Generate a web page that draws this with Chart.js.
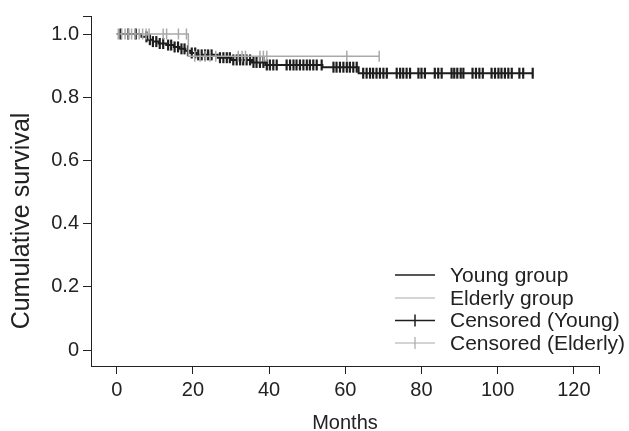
<!DOCTYPE html>
<html>
<head>
<meta charset="utf-8">
<script src="https://cdn.jsdelivr.net/npm/chart.js@4"></script>
<style>
  html, body { margin: 0; padding: 0; background: #fff; }
</style>
</head>
<body>
<canvas id="kmChart" width="629" height="431"></canvas>
<script>
// Kaplan-Meier curves, young vs elderly group

// young group: step times (months) and survival after each step
const youngStepTimes = [6.5, 8, 9.5, 11, 13, 15, 16.5, 18, 19.3, 21, 26.5, 30, 35.5, 39, 54, 63.5];
const youngStepSurv = [0.991, 0.982, 0.976, 0.970, 0.965, 0.959, 0.953, 0.947, 0.940, 0.934, 0.925, 0.918, 0.910, 0.902, 0.895, 0.876];
const youngLastTime = 109.2;
const youngCensorTimes = [1, 3, 5, 7.8, 8.7, 9.5, 10.4, 11.3, 12.2, 13.5, 14.3, 15.2, 16.1, 17.0, 17.8, 18.7,
  19.7, 20.6, 21.4, 22.3, 23.2, 24.0, 24.9, 27.1, 28.0, 28.9, 29.7, 30.6, 31.5, 32.4, 33.2, 34.1, 35.0,
  35.9, 36.7, 37.6, 38.5, 39.4, 40.2, 41.1, 42.0, 44.6, 45.5, 46.4, 47.2, 48.1, 49.0, 49.9, 50.7, 51.6,
  52.5, 53.8, 56.9, 57.7, 58.6, 59.5, 60.4, 61.2, 62.1, 63.0, 64.7, 65.6, 66.5, 67.3, 68.2, 69.1, 70.0,
  70.9, 73.5, 74.4, 75.2, 76.1, 77.0, 79.2, 80.0, 80.9, 83.5, 84.4, 85.3, 87.9, 88.6, 89.4, 90.3, 91.0,
  93.4, 94.3, 95.2, 96.1, 98.4, 99.3, 100.2, 101.0, 101.9, 102.8, 103.7, 105.7, 106.7, 109.2];

// elderly group
const elderlyStepTimes = [18.8];
const elderlyStepSurv = [0.930];
const elderlyLastTime = 68.9;
const elderlyCensorTimes = [0.4, 1.3, 2.2, 3.0, 3.9, 4.8, 5.9, 6.8, 7.7, 8.5, 12.2, 13.1, 16.2, 18.3,
  20.5, 21.9, 23.2, 24.5, 26.0, 31.9, 32.9, 33.8, 37.6, 38.5, 39.4, 60.4, 68.9];

const xTickValues = [0, 20, 40, 60, 80, 100, 120];
const yTickValues = [0, 0.2, 0.4, 0.6, 0.8, 1.0];
const legendLabels = ['Young group', 'Elderly group', 'Censored (Young)', 'Censored (Elderly)'];

const YOUNG = '#1e1e1e';
const ELDERLY = '#a9a9a9';
const TEXT = '#222';
const FONT = '"Liberation Sans", Arial, sans-serif';

function curvePoints(times, surv, lastTime) {
  const pts = [{x: 0, y: 1}];
  times.forEach((t, i) => pts.push({x: t, y: surv[i]}));
  pts.push({x: lastTime, y: surv[surv.length - 1]});
  return pts;
}

function survAt(times, surv, t) {
  let s = 1;
  times.forEach((ti, i) => { if (ti <= t) s = surv[i]; });
  return s;
}

function censorPoints(censor, times, surv) {
  return censor.map(t => ({x: t, y: survAt(times, surv, t)}));
}

// axis titles and legend drawn by hand to sit where the original has them
const extras = {
  id: 'extras',
  afterDraw(chart) {
    const ctx = chart.ctx;
    ctx.save();
    ctx.fillStyle = TEXT;
    ctx.font = '20px ' + FONT;
    ctx.textAlign = 'center';
    ctx.textBaseline = 'middle';
    ctx.fillText('Months', (chart.chartArea.left + chart.chartArea.right) / 2, 423);
    ctx.font = '25px ' + FONT;
    ctx.translate(22, 221);
    ctx.rotate(-Math.PI / 2);
    ctx.fillText('Cumulative survival', 0, 0);
    ctx.restore();

    const rows = [275, 298, 320.5, 343];
    const colors = [YOUNG, ELDERLY, YOUNG, ELDERLY];
    ctx.save();
    ctx.font = '21px ' + FONT;
    ctx.textBaseline = 'middle';
    legendLabels.forEach((lab, i) => {
      const y = rows[i];
      ctx.strokeStyle = colors[i];
      ctx.lineWidth = i % 2 === 0 ? 1.5 : 1.2;
      ctx.beginPath();
      ctx.moveTo(395, y);
      ctx.lineTo(435, y);
      if (i >= 2) {
        ctx.moveTo(415, y - 6);
        ctx.lineTo(415, y + 6);
      }
      ctx.stroke();
      ctx.fillStyle = TEXT;
      ctx.fillText(lab, 450, y + 1);
    });
    ctx.restore();
  }
};

new Chart(document.getElementById('kmChart'), {
  type: 'line',
  data: {
    datasets: [
      {
        label: 'Censored (Elderly)',
        data: censorPoints(elderlyCensorTimes, elderlyStepTimes, elderlyStepSurv),
        showLine: false,
        pointStyle: 'line',
        rotation: 90,
        pointRadius: 5.5,
        borderColor: ELDERLY,
        borderWidth: 1.5
      },
      {
        label: 'Elderly group',
        data: curvePoints(elderlyStepTimes, elderlyStepSurv, elderlyLastTime),
        stepped: 'before',
        borderColor: ELDERLY,
        borderWidth: 1.5,
        pointRadius: 0
      },
      {
        label: 'Censored (Young)',
        data: censorPoints(youngCensorTimes, youngStepTimes, youngStepSurv),
        showLine: false,
        pointStyle: 'line',
        rotation: 90,
        pointRadius: 5.5,
        borderColor: YOUNG,
        borderWidth: 2.2
      },
      {
        label: 'Young group',
        data: curvePoints(youngStepTimes, youngStepSurv, youngLastTime),
        stepped: 'before',
        borderColor: YOUNG,
        borderWidth: 2,
        pointRadius: 0
      }
    ]
  },
  options: {
    responsive: false,
    animation: false,
    devicePixelRatio: 1,
    layout: {padding: {top: 16, right: 30, left: 0, bottom: 0}},
    plugins: {legend: {display: false}, tooltip: {enabled: false}},
    scales: {
      x: {
        type: 'linear',
        min: -6.75,
        max: 126.6,
        afterBuildTicks: s => { s.ticks = xTickValues.concat([s.max]).map(v => ({value: v})); },
        afterFit: s => { s.height = 65; },
        ticks: {
          color: TEXT,
          font: {family: FONT, size: 20},
          padding: 4,
          maxRotation: 0,
          autoSkip: false,
          callback: v => xTickValues.includes(v) ? String(v) : ''
        },
        grid: {drawOnChartArea: false, tickLength: 8, tickColor: TEXT, tickWidth: 1},
        border: {display: true, color: TEXT, width: 1}
      },
      y: {
        type: 'linear',
        min: -0.0506,
        max: 1.057,
        afterBuildTicks: s => { s.ticks = yTickValues.concat([s.max]).map(v => ({value: v})); },
        afterFit: s => { s.width = 91; },
        ticks: {
          color: TEXT,
          font: {family: FONT, size: 20},
          padding: 4,
          autoSkip: false,
          callback: v => yTickValues.includes(v) ? (v === 0 ? '0' : v.toFixed(1)) : ''
        },
        grid: {drawOnChartArea: false, tickLength: 8, tickColor: TEXT, tickWidth: 1},
        border: {display: true, color: TEXT, width: 1}
      }
    }
  },
  plugins: [extras]
});
</script>
</body>
</html>
